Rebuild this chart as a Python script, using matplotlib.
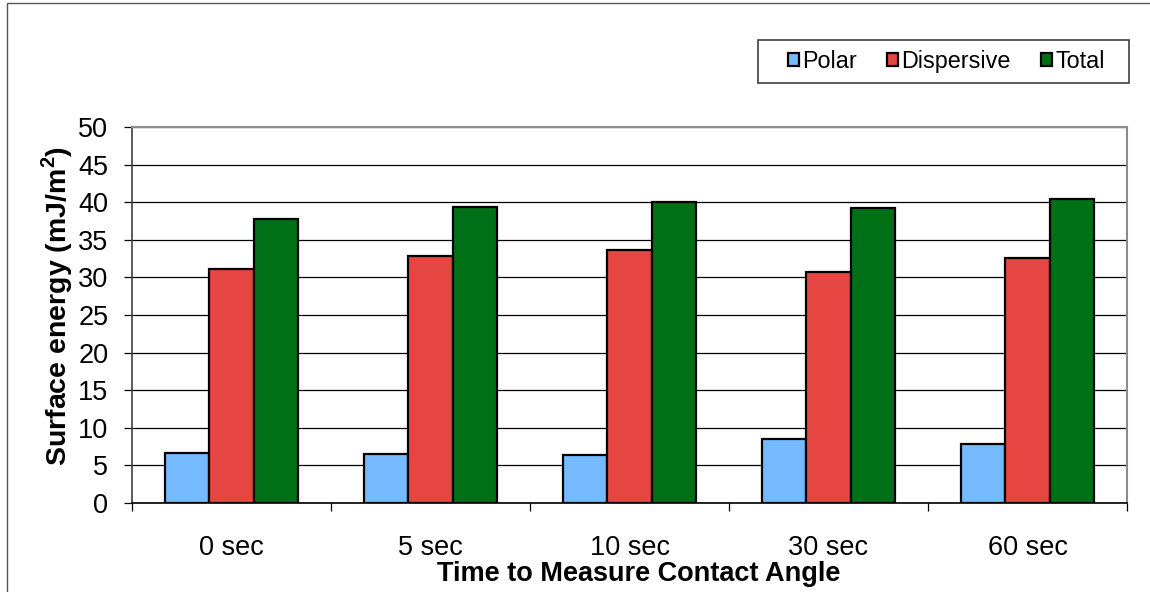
import numpy as np
import matplotlib
matplotlib.use("Agg")
import matplotlib.pyplot as plt
from matplotlib.patches import Rectangle

plt.rcParams['font.family'] = ['Liberation Sans', 'DejaVu Sans']

# surface energy components per contact-angle measurement time
times = ["0 sec", "5 sec", "10 sec", "30 sec", "60 sec"]
polar = [6.7, 6.5, 6.4, 8.5, 7.8]
dispersive = [31.1, 32.8, 33.6, 30.7, 32.6]
total = [37.8, 39.3, 40.0, 39.2, 40.4]
y_ticks = [0, 5, 10, 15, 20, 25, 30, 35, 40, 45, 50]

series = [("Polar", polar, "#75B9FF"),
          ("Dispersive", dispersive, "#E54641"),
          ("Total", total, "#007016")]

W, H = 1150, 592
fig = plt.figure(figsize=(W / 100, H / 100), dpi=100)
ax = fig.add_axes([132 / W, 1 - 503 / H, (1127 - 132) / W, (503 - 127) / H])

# thin outer frame of the chart area
fig.patches.append(Rectangle((7 / W, -0.05), 1.2, 1 - 3 / H + 0.05,
                             transform=fig.transFigure, fill=False,
                             edgecolor="#555555", linewidth=1.0))

x = np.arange(len(times))
w = 0.2225
for i, (name, vals, color) in enumerate(series):
    ax.bar(x + (i - 1) * w, vals, w, color=color, edgecolor="black",
           linewidth=1.6, label=name, zorder=3)

ax.set_xlim(-0.5, len(times) - 0.5)
ax.set_ylim(0, 50)
ax.set_yticks(y_ticks)
ax.set_yticklabels([str(t) for t in y_ticks], fontsize=19.5)
ax.yaxis.grid(True, color="black", linewidth=0.9, zorder=0)
ax.tick_params(axis="y", direction="out", length=6, width=0.9, pad=11)

# category boundaries as ticks, names at the centres
ax.set_xticks(np.arange(-0.5, len(times), 1.0))
ax.set_xticklabels([])
ax.set_xticks(x, minor=True)
ax.set_xticklabels(times, minor=True, fontsize=19.5)
ax.tick_params(axis="x", which="major", direction="out", length=6, width=0.9)
ax.tick_params(axis="x", which="minor", length=0, pad=23)

for side in ("top", "right"):
    ax.spines[side].set_color("#8c8c8c")
    ax.spines[side].set_linewidth(1.5)
ax.spines["left"].set_color("#404040")
ax.spines["left"].set_linewidth(1.2)
ax.spines["bottom"].set_color("black")
ax.spines["bottom"].set_linewidth(1.2)

ax.set_xlabel("Time to Measure Contact Angle", fontsize=19.5, fontweight="bold", labelpad=0)
ax.xaxis.label.set_x(0.5095)
ax.set_ylabel("Surface energy (mJ/m$^\\mathregular{2}$)", fontsize=20.5, fontweight="bold", labelpad=2)
ax.yaxis.label.set_y(0.524)

# legend box drawn separately so the padding can be set per side
lx0, lx1, ly0, ly1 = 758, 1129, 40, 83
fig.patches.append(Rectangle((lx0 / W, 1 - ly1 / H), (lx1 - lx0) / W, (ly1 - ly0) / H,
                             transform=fig.transFigure, fill=False,
                             edgecolor="#404040", linewidth=1.2))
fig.legend(loc="center", bbox_to_anchor=(946.5 / W, 1 - (ly0 + ly1) / 2 / H),
           ncol=3, fontsize=16.8, frameon=False,
           handlelength=0.45, handleheight=0.45,
           handletextpad=0.15, columnspacing=1.3, borderpad=0, borderaxespad=0)

fig.savefig("out.png", dpi=100, facecolor="white")
